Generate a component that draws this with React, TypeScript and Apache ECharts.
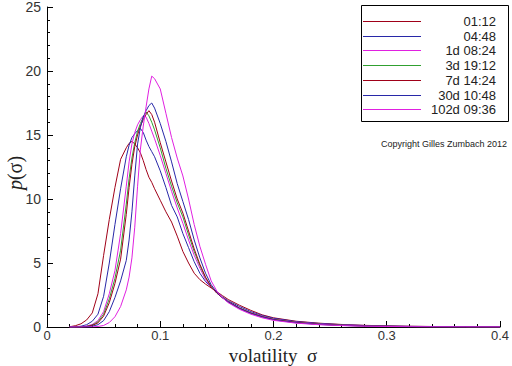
import React, { useEffect, useRef } from "react";
import * as echarts from "echarts";

const sigma = [0.02, 0.025, 0.03, 0.035, 0.04, 0.045, 0.05, 0.055, 0.06, 0.065, 0.07, 0.0725, 0.075, 0.0775, 0.08, 0.0825, 0.085, 0.0875, 0.09, 0.0925, 0.095, 0.1, 0.105, 0.11, 0.115, 0.12, 0.125, 0.13, 0.135, 0.14, 0.145, 0.15, 0.155, 0.16, 0.17, 0.18, 0.19, 0.2, 0.22, 0.24, 0.26, 0.28, 0.3, 0.32, 0.34, 0.37, 0.4];

const names = ["01:12", "04:48", "1d 08:24", "3d 19:12", "7d 14:24", "30d 10:48", "102d 09:36"];
const colors = ["#a00018", "#2828a8", "#e020e0", "#30a030", "#a00018", "#2828a8", "#e020e0"];

const p0112 = [0.02, 0.1, 0.25, 0.55, 1.1, 2.6, 5.6, 8.4, 10.9, 13.1, 14.0, 14.35, 14.5, 14.3, 14.0, 13.6, 13.0, 12.3, 11.7, 11.3, 10.8, 9.9, 9.0, 8.2, 7.1, 5.9, 5.0, 4.2, 3.7, 3.35, 3.05, 2.75, 2.45, 2.15, 1.7, 1.3, 0.95, 0.72, 0.45, 0.3, 0.2, 0.13, 0.09, 0.06, 0.04, 0.03, 0.02];
const p0448 = [0, 0.02, 0.06, 0.18, 0.45, 1.0, 2.4, 5.0, 8.0, 10.8, 13.3, 14.2, 14.8, 15.1, 15.35, 15.5, 15.2, 14.6, 14.1, 13.7, 13.3, 12.2, 10.9, 9.5, 8.6, 7.3, 6.2, 5.1, 4.2, 3.55, 3.1, 2.7, 2.35, 2.05, 1.6, 1.2, 0.9, 0.68, 0.42, 0.28, 0.18, 0.12, 0.08, 0.05, 0.035, 0.025, 0.015];
const p1d = [0, 0, 0.02, 0.08, 0.2, 0.5, 1.2, 2.6, 4.4, 7.3, 11.0, 12.9, 14.3, 15.2, 15.8, 16.2, 16.5, 16.4, 15.9, 15.3, 14.7, 13.4, 12.0, 10.6, 9.3, 8.1, 6.8, 5.6, 4.6, 3.7, 3.1, 2.65, 2.3, 2.0, 1.5, 1.12, 0.85, 0.62, 0.38, 0.24, 0.15, 0.1, 0.06, 0.04, 0.03, 0.02, 0.01];
const p3d = [0, 0, 0.01, 0.05, 0.15, 0.4, 1.0, 2.2, 3.8, 6.0, 9.6, 11.6, 13.2, 14.4, 15.3, 15.9, 16.4, 16.8, 16.5, 16.0, 15.4, 14.0, 12.4, 11.0, 9.7, 8.6, 7.2, 5.9, 4.8, 3.85, 3.15, 2.65, 2.3, 1.98, 1.48, 1.1, 0.82, 0.6, 0.36, 0.22, 0.14, 0.09, 0.055, 0.035, 0.025, 0.015, 0.01];
const p7d = [0, 0, 0.01, 0.04, 0.12, 0.32, 0.85, 1.9, 3.4, 5.3, 8.8, 10.9, 12.7, 14.1, 15.0, 15.7, 16.2, 16.6, 16.9, 16.6, 16.0, 14.4, 12.9, 11.4, 10.0, 8.9, 7.5, 6.1, 4.9, 3.9, 3.15, 2.65, 2.28, 1.96, 1.46, 1.08, 0.8, 0.58, 0.35, 0.21, 0.13, 0.08, 0.05, 0.03, 0.02, 0.015, 0.01];
const p30d = [0, 0, 0, 0.02, 0.06, 0.18, 0.5, 1.2, 2.3, 3.6, 5.2, 6.8, 9.0, 11.8, 14.3, 15.6, 16.4, 16.9, 17.3, 17.5, 17.1, 15.9, 14.5, 12.9, 11.2, 9.8, 8.4, 6.8, 5.4, 4.2, 3.3, 2.7, 2.28, 1.95, 1.44, 1.05, 0.78, 0.56, 0.33, 0.2, 0.12, 0.075, 0.045, 0.03, 0.02, 0.012, 0.008];
const p102d = [0, 0, 0, 0, 0.01, 0.04, 0.12, 0.35, 0.8, 1.6, 2.9, 3.9, 5.4, 7.8, 11.0, 13.9, 15.7, 17.2, 18.6, 19.6, 19.4, 18.6, 16.7, 14.8, 13.2, 11.8, 10.0, 8.0, 6.3, 4.9, 3.6, 2.8, 2.28, 1.9, 1.38, 1.0, 0.72, 0.52, 0.3, 0.18, 0.11, 0.065, 0.04, 0.025, 0.015, 0.01, 0.005];

const seriesValues = [p0112, p0448, p1d, p3d, p7d, p30d, p102d];

const xTicks = { min: 0, max: 0.4, interval: 0.1 };
const yTicks = { min: 0, max: 25, interval: 5 };

const labelFont = "'Liberation Sans', Arial, sans-serif";
const serifFont = "'Liberation Serif', 'Times New Roman', serif";

export default function App() {
  const ref = useRef<HTMLDivElement>(null);
  useEffect(() => {
    if (!ref.current) return;
    const chart = echarts.init(ref.current, undefined, { renderer: "svg" });
    const axisCommon = {
      axisLine: { show: true, onZero: false, lineStyle: { color: "#000", width: 1 } },
      axisTick: { show: true, inside: true, length: 6, lineStyle: { color: "#000", width: 1 } },
      minorTick: { show: true, splitNumber: 5, length: 3, lineStyle: { color: "#000", width: 1 } },
      splitLine: { show: false },
      minorSplitLine: { show: false },
    };

    const legendItems: any[] = [];
    names.forEach((name, i) => {
      const y = Math.round(22 + i * 14.7) - 0.5;
      legendItems.push({
        type: "line",
        z: 11,
        shape: { x1: 363, y1: y, x2: 421, y2: y },
        style: { stroke: colors[i], lineWidth: 1 },
      });
      legendItems.push({
        type: "text",
        z: 11,
        x: 496,
        y: y,
        style: {
          text: name,
          font: `13px ${labelFont}`,
          fill: "#222",
          textAlign: "right",
          textVerticalAlign: "middle",
        },
      });
    });

    chart.setOption({
      animation: false,
      backgroundColor: "#fff",
      grid: { left: 47, right: 10, top: 7, bottom: 39, containLabel: false },
      xAxis: {
        type: "value",
        ...xTicks,
        ...axisCommon,
        axisLabel: { fontFamily: labelFont, fontSize: 13, color: "#333", margin: 2 },
      },
      yAxis: {
        type: "value",
        ...yTicks,
        ...axisCommon,
        axisLabel: { fontFamily: labelFont, fontSize: 14, color: "#333", margin: 6 },
      },
      graphic: [
        {
          type: "rect",
          z: 10,
          shape: { x: 361.5, y: 5.5, width: 147, height: 116 },
          style: { fill: "#fff", stroke: "#000", lineWidth: 1 },
        },
        ...legendItems,
        {
          type: "text",
          x: 273,
          y: 355,
          style: {
            text: "volatility  σ",
            font: `19px ${serifFont}`,
            fill: "#222",
            textAlign: "center",
            textVerticalAlign: "middle",
          },
        },
        {
          type: "text",
          x: 15,
          y: 173,
          rotation: Math.PI / 2,
          style: {
            text: "{i|p}(σ)",
            font: `20px ${serifFont}`,
            fill: "#222",
            textAlign: "center",
            textVerticalAlign: "middle",
            rich: { i: { fontStyle: "italic", fontFamily: serifFont, fontSize: 20, fill: "#222" } },
          },
        },
        {
          type: "text",
          x: 507,
          y: 144,
          style: {
            text: "Copyright Gilles Zumbach 2012",
            font: `9px ${labelFont}`,
            fill: "#222",
            textAlign: "right",
            textVerticalAlign: "middle",
          },
        },
      ],
      series: names.map((name, k) => ({
        name,
        type: "line",
        symbol: "none",
        smooth: false,
        color: colors[k],
        lineStyle: { color: colors[k], width: 1 },
        data: sigma.map((s, i) => [s, seriesValues[k][i]]),
      })),
    });
    return () => chart.dispose();
  }, []);
  return <div ref={ref} style={{ position: "absolute", left: 0, top: 0, width: 512, height: 366 }} />;
}
